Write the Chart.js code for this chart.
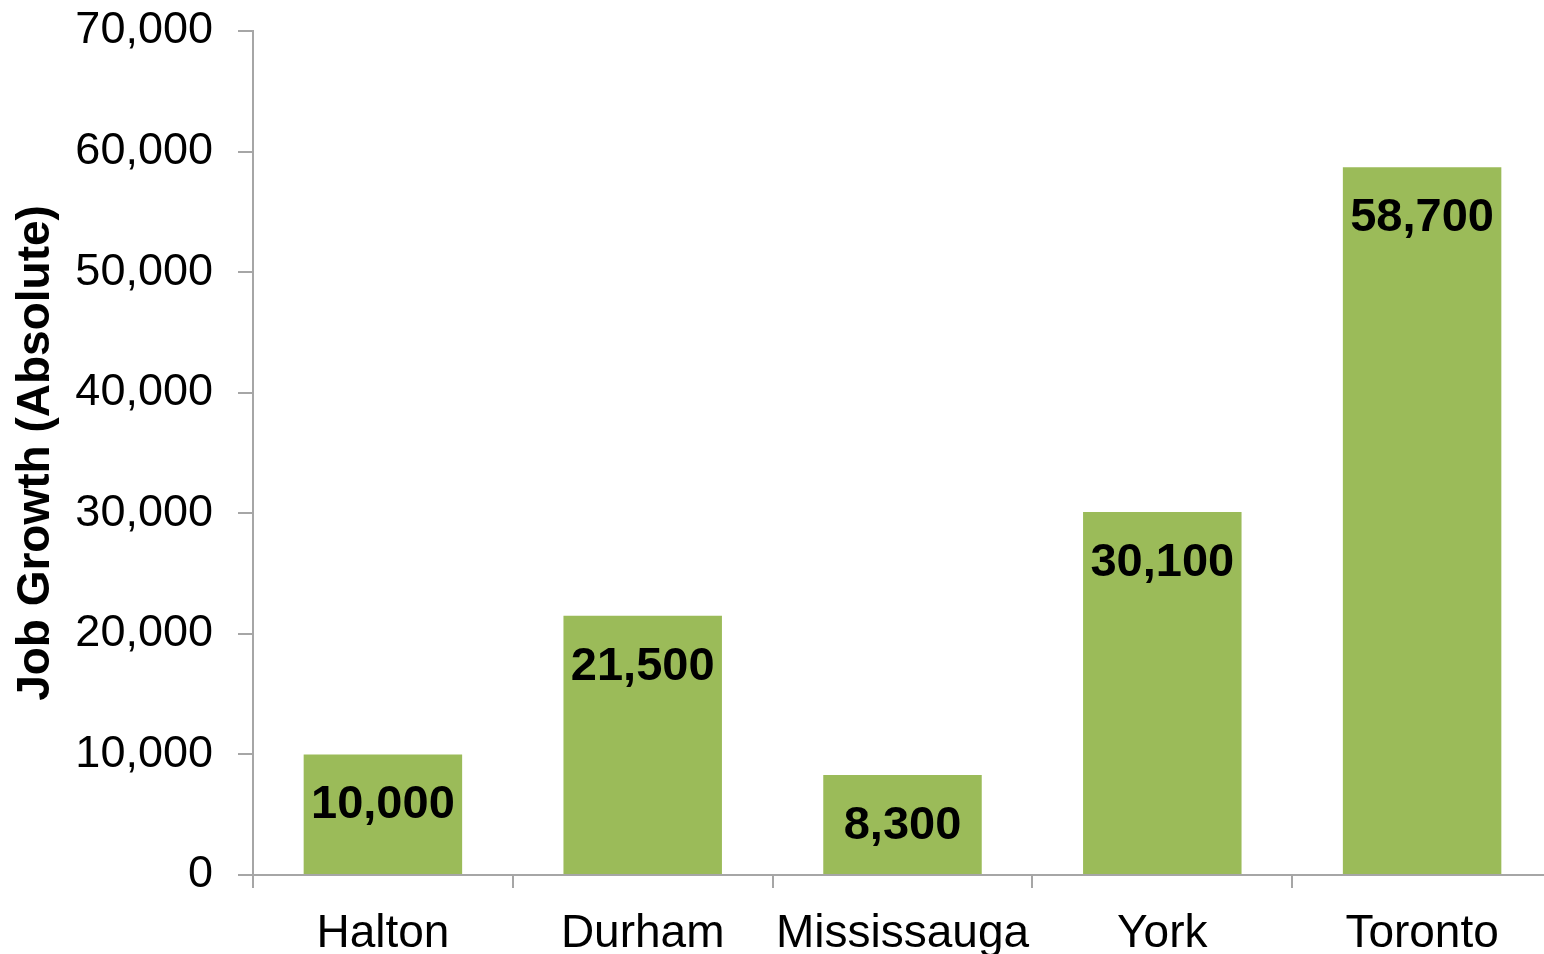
<!DOCTYPE html>
<html>
<head>
<meta charset="utf-8">
<script src="https://cdn.jsdelivr.net/npm/chart.js@4"></script>
<style>
  html, body { margin: 0; padding: 0; background: #fff; overflow: hidden; }
  #wrap { width: 1552px; height: 954px; }
</style>
</head>
<body>
<div id="wrap"><canvas id="grafico_barras"></canvas></div>
<script>
// data
const regions = ['Halton', 'Durham', 'Mississauga', 'York', 'Toronto'];
const jobGrowth = [10000, 21500, 8300, 30100, 58700];
const yTicks = [0, 10000, 20000, 30000, 40000, 50000, 60000, 70000];

const axisGray = '#a6a6a6';
const fmt = v => v.toLocaleString('en-US');

Chart.defaults.font.family = '"Liberation Sans", Arial, sans-serif';
Chart.defaults.font.size = 45;
Chart.defaults.color = '#000';

// value labels drawn inside the top of each bar
const barLabels = {
  id: 'barLabels',
  afterDatasetsDraw(chart) {
    const ctx = chart.ctx;
    const meta = chart.getDatasetMeta(0);
    ctx.save();
    ctx.font = 'bold 47px "Liberation Sans", Arial, sans-serif';
    ctx.fillStyle = '#000';
    ctx.textAlign = 'center';
    ctx.textBaseline = 'middle';
    meta.data.forEach((bar, i) => {
      ctx.fillText(fmt(jobGrowth[i]), bar.x, bar.y + 51);
    });
    ctx.restore();
  }
};

const ctx = document.getElementById('grafico_barras').getContext('2d');
new Chart(ctx, {
  type: 'bar',
  data: {
    labels: regions,
    datasets: [{
      data: jobGrowth,
      backgroundColor: '#9bbb59',
      categoryPercentage: 1,
      barPercentage: 0.61
    }]
  },
  options: {
    responsive: true,
    maintainAspectRatio: false,
    animation: false,
    layout: { padding: { top: 31, right: 0, left: 0, bottom: 0 } },
    plugins: {
      legend: { display: false },
      tooltip: { enabled: false }
    },
    scales: {
      x: {
        grid: { drawOnChartArea: false, color: axisGray, lineWidth: 2, tickLength: 13 },
        border: { color: axisGray, width: 2 },
        ticks: { padding: 19, maxRotation: 0, autoSkip: false, font: { size: 46 } },
        afterFit(scale) { scale.height = 79; }
      },
      y: {
        min: 0,
        max: 70000,
        grid: { drawOnChartArea: false, color: axisGray, lineWidth: 2, tickLength: 15 },
        border: { color: axisGray, width: 2 },
        afterBuildTicks(scale) { scale.ticks = yTicks.map(v => ({ value: v })); },
        ticks: { padding: 25, callback: v => fmt(v) },
        title: {
          display: true,
          text: 'Job Growth (Absolute)',
          font: { weight: 'bold', size: 46 },
          padding: { top: 9, bottom: 0 }
        },
        afterFit(scale) {
          scale.width = 253;
          scale.paddingTop = 0;
          scale.paddingBottom = 0;
        }
      }
    }
  },
  plugins: [barLabels]
});
</script>
</body>
</html>
